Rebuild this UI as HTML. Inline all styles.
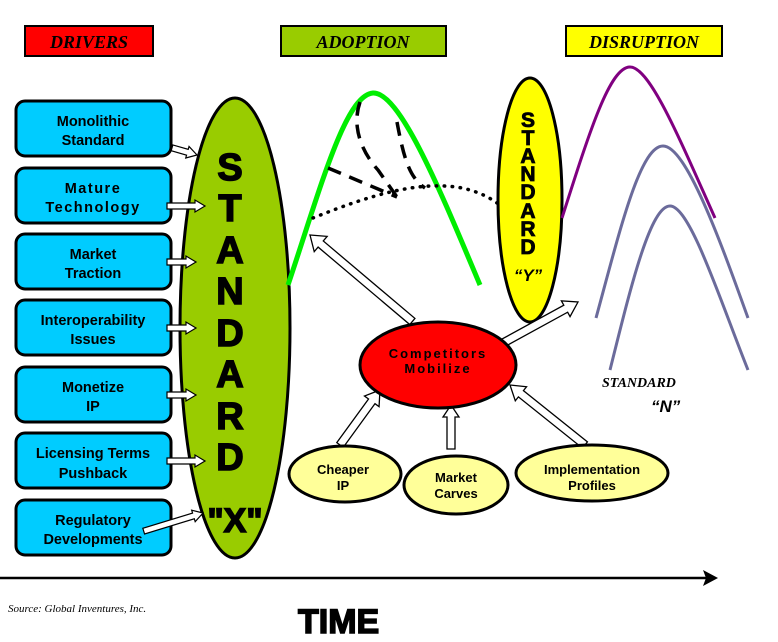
<!DOCTYPE html>
<html><head><style>
body{margin:0;background:#fff;}
svg{display:block;}
</style></head><body>
<svg width="778" height="642" viewBox="0 0 778 642" xmlns="http://www.w3.org/2000/svg" font-family="Liberation Sans, sans-serif">
<!-- headers -->
<rect x="25" y="26" width="128" height="30" fill="#ff0000" stroke="#000" stroke-width="2"/>
<text x="89" y="48" text-anchor="middle" font-family="Liberation Serif,serif" font-style="italic" font-weight="bold" font-size="18">DRIVERS</text>
<rect x="281" y="26" width="165" height="30" fill="#99cc00" stroke="#000" stroke-width="2"/>
<text x="363" y="48" text-anchor="middle" font-family="Liberation Serif,serif" font-style="italic" font-weight="bold" font-size="18">ADOPTION</text>
<rect x="566" y="26" width="156" height="30" fill="#ffff00" stroke="#000" stroke-width="2"/>
<text x="644" y="48" text-anchor="middle" font-family="Liberation Serif,serif" font-style="italic" font-weight="bold" font-size="18">DISRUPTION</text>

<!-- left boxes -->
<g fill="#00ccff" stroke="#000" stroke-width="3">
<rect x="16" y="101" width="155" height="55" rx="9"/>
<rect x="16" y="168" width="155" height="55" rx="9"/>
<rect x="16" y="234" width="155" height="55" rx="9"/>
<rect x="16" y="300" width="155" height="55" rx="9"/>
<rect x="16" y="367" width="155" height="55" rx="9"/>
<rect x="16" y="433" width="155" height="55" rx="9"/>
<rect x="16" y="500" width="155" height="55" rx="9"/>
</g>
<g font-weight="bold" font-size="14.5" text-anchor="middle" fill="#000">
<text x="93" y="126">Monolithic</text><text x="93" y="145">Standard</text>
<text x="93" y="193" letter-spacing="1.5">Mature</text><text x="93" y="212" letter-spacing="1.5">Technology</text>
<text x="93" y="259">Market</text><text x="93" y="278">Traction</text>
<text x="93" y="325">Interoperability</text><text x="93" y="344">Issues</text>
<text x="93" y="392">Monetize</text><text x="93" y="411">IP</text>
<text x="93" y="458">Licensing Terms</text><text x="93" y="478">Pushback</text>
<text x="93" y="525">Regulatory</text><text x="93" y="544">Developments</text>
</g>

<!-- green ellipse -->
<ellipse cx="235" cy="328" rx="55" ry="230" fill="#99cc00" stroke="#000" stroke-width="3"/>
<g font-weight="bold" font-size="38" text-anchor="middle" stroke="#000" stroke-width="1.5">
<text x="230" y="180">S</text><text x="230" y="221">T</text><text x="230" y="263">A</text>
<text x="230" y="304">N</text><text x="230" y="346">D</text><text x="230" y="387">A</text>
<text x="230" y="429">R</text><text x="230" y="470">D</text>
<text x="235" y="532" font-size="34">"X"</text>
</g>

<!-- left arrows -->
<g fill="#fff" stroke="#000" stroke-width="1.2">
<g transform="translate(197,155) rotate(16)"><polygon points="0,0 -10,-6 -10,-3 -26,-3 -26,3 -10,3 -10,6"/></g>
<g transform="translate(205,206)"><polygon points="0,0 -10,-6 -10,-3 -38,-3 -38,3 -10,3 -10,6"/></g>
<g transform="translate(196,262)"><polygon points="0,0 -10,-6 -10,-3 -29,-3 -29,3 -10,3 -10,6"/></g>
<g transform="translate(196,328)"><polygon points="0,0 -10,-6 -10,-3 -29,-3 -29,3 -10,3 -10,6"/></g>
<g transform="translate(196,395)"><polygon points="0,0 -10,-6 -10,-3 -29,-3 -29,3 -10,3 -10,6"/></g>
<g transform="translate(205,461)"><polygon points="0,0 -10,-6 -10,-3 -38,-3 -38,3 -10,3 -10,6"/></g>
<g transform="translate(203,513) rotate(-17)"><polygon points="0,0 -10,-6 -10,-3 -62,-3 -62,3 -10,3 -10,6"/></g>
</g>

<!-- adoption curves -->
<path d="M288,285 C320,190 345,95 373,93 C400,92 440,190 480,285" fill="none" stroke="#00ee00" stroke-width="5"/>
<g fill="none" stroke="#000" stroke-width="3.5" stroke-dasharray="14,9">
<path d="M360,102 C352,125 360,150 378,170 L397,197"/>
<path d="M328,168 L397,197"/>
<path d="M397,122 C404,160 410,178 425,188"/>
</g>
<path d="M313,218 C370,195 420,180 462,188 C480,192 490,198 497,203" fill="none" stroke="#000" stroke-width="3.5" stroke-dasharray="0.5,7.5" stroke-linecap="round"/>

<!-- yellow ellipse -->
<ellipse cx="530" cy="200" rx="32" ry="122" fill="#ffff00" stroke="#000" stroke-width="3"/>
<g font-weight="bold" font-size="21" text-anchor="middle" stroke="#000" stroke-width="0.8">
<text x="528" y="127">S</text><text x="528" y="145">T</text><text x="528" y="163">A</text>
<text x="528" y="181">N</text><text x="528" y="199">D</text><text x="528" y="218">A</text>
<text x="528" y="236">R</text><text x="528" y="254">D</text>
</g>
<text x="528" y="281" font-weight="bold" font-size="17" font-style="italic" text-anchor="middle">“Y”</text>

<!-- disruption curves -->
<path d="M562,218 C590,130 610,67 630,67 C650,67 680,140 715,218" fill="none" stroke="#800080" stroke-width="3"/>
<path d="M596,318 C620,230 640,146 663,146 C686,146 720,240 748,318" fill="none" stroke="#6b6b9b" stroke-width="3"/>
<path d="M610,370 C630,290 650,206 670,206 C690,206 720,300 748,370" fill="none" stroke="#6b6b9b" stroke-width="3"/>
<text x="602" y="387" font-family="Liberation Serif,serif" font-style="italic" font-weight="bold" font-size="14">STANDARD</text>
<text x="651" y="412" font-weight="bold" font-size="17" font-style="italic">“N”</text>

<!-- competitors -->
<g fill="#fff" stroke="#000" stroke-width="1.3">
<g transform="translate(310,235) rotate(40.2)"><polygon points="0,0 14,-10 14,-4 134,-4 134,4 14,4 14,10"/></g>
<g transform="translate(578,302) rotate(151.3)"><polygon points="0,0 14,-9 14,-4 85,-4 85,4 14,4 14,9"/></g>
<g transform="translate(380,390) rotate(126)"><polygon points="0,0 14,-9 14,-4 68,-4 68,4 14,4 14,9"/></g>
<g transform="translate(451,405) rotate(90)"><polygon points="0,0 12,-8 12,-4 44,-4 44,4 12,4 12,8"/></g>
<g transform="translate(510,385) rotate(38.7)"><polygon points="0,0 14,-9 14,-4 96,-4 96,4 14,4 14,9"/></g>
</g>
<ellipse cx="438" cy="365" rx="78" ry="43" fill="#ff0000" stroke="#000" stroke-width="3"/>
<text x="438" y="358" font-weight="bold" font-size="13" letter-spacing="2" text-anchor="middle">Competitors</text>
<text x="438" y="373" font-weight="bold" font-size="13" letter-spacing="2" text-anchor="middle">Mobilize</text>

<g fill="#ffff99" stroke="#000" stroke-width="3">
<ellipse cx="345" cy="474" rx="56" ry="28"/>
<ellipse cx="456" cy="485" rx="52" ry="29"/>
<ellipse cx="592" cy="473" rx="76" ry="28"/>
</g>
<g font-weight="bold" font-size="13" text-anchor="middle">
<text x="343" y="474">Cheaper</text><text x="343" y="490">IP</text>
<text x="456" y="482">Market</text><text x="456" y="498">Carves</text>
<text x="592" y="474">Implementation</text><text x="592" y="490">Profiles</text>
</g>

<!-- time axis -->
<line x1="0" y1="578" x2="706" y2="578" stroke="#000" stroke-width="2.5"/>
<polygon points="718,578 703,570 706,578 703,586" fill="#000"/>
<text x="8" y="612" font-family="Liberation Serif,serif" font-style="italic" font-size="11">Source: Global Inventures, Inc.</text>
<text x="298" y="633" font-weight="bold" font-size="34" stroke="#000" stroke-width="1.5">TIME</text>
</svg>
</body></html>
